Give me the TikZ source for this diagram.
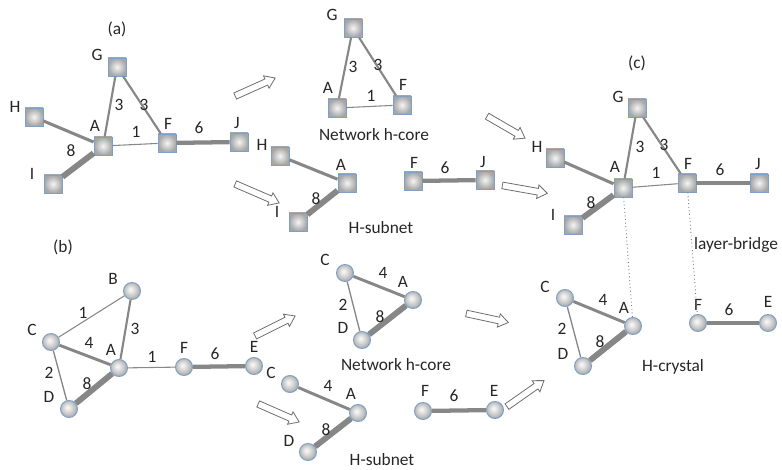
\documentclass[tikz,border=0pt]{standalone}
\usepackage{fontspec}
\setmainfont{Carlito}
\usetikzlibrary{shapes.arrows,calc}
\definecolor{edgegray}{RGB}{135,135,135}
\definecolor{rimblue}{RGB}{125,160,200}
\definecolor{arrowline}{RGB}{110,110,110}

% soft off-centre shading for the round vertices
\pgfdeclareradialshading{softball}{\pgfpoint{-5bp}{5bp}}{%
  color(0bp)=(gray!4); color(7bp)=(gray!18); color(20bp)=(gray!50);
  color(26bp)=(gray!68); color(50bp)=(gray!68)}

% hollow block arrow between two named coordinates
\newcommand\blockarrow[3]{%
  \path let \p1=($(#3)-(#2)$), \n1={atan2(\y1,\x1)}, \n2={veclen(\x1,\y1)} in
    node[hollow, rotate=\n1, minimum height=\n2] (#1) at ($(#2)!0.5!(#3)$) {};}

\begin{document}
\begin{tikzpicture}[x=0.75pt,y=-0.75pt,
  sq/.style={draw=rimblue, line width=0.7pt, minimum size=13.5pt, inner sep=0pt,
             inner color=gray!8, outer color=gray!70},
  ball/.style={circle, draw=rimblue, line width=0.7pt, minimum size=12.75pt, inner sep=0pt,
               shading=softball},
  txt/.style={font=\fontsize{13}{15}\selectfont, inner sep=0pt, text=black!85},
  e1/.style={draw=edgegray, line width=0.8pt},
  e2/.style={draw=edgegray, line width=1.0pt},
  e3/.style={draw=edgegray, line width=1.6pt},
  e4/.style={draw=edgegray, line width=2.2pt},
  eh/.style={draw=edgegray, line width=2.3pt},
  e6/.style={draw=edgegray, line width=3.2pt},
  e8/.style={draw=edgegray, line width=4.4pt},
  bridge/.style={draw=gray, line width=0.7pt, dotted},
  hollow/.style={single arrow, draw=arrowline, line width=0.6pt, fill=white,
                 inner sep=2.2pt, minimum width=0pt, single arrow head extend=2.6pt,
                 single arrow tip angle=70}]
\useasboundingbox (0,0) rectangle (782,470);

% ---------- (a) original network ----------
\node[txt] (la) at (117,29) {(a)};
\node[sq] (aG) at (117,67) {};
\node[sq] (aH) at (34,117) {};
\node[sq] (aA) at (103,146) {};
\node[sq] (aI) at (53,184) {};
\node[sq] (aF) at (167,143) {};
\node[sq] (aJ) at (239,142) {};
\draw[e3] (aA) -- (aG);
\draw[e3] (aG) -- (aF);
\draw[eh] (aA) -- (aH);
\draw[e1] (aA) -- (aF);
\draw[e8] (aA) -- (aI);
\draw[e6] (aF) -- (aJ);
\node[txt] (taG) at (97,55) {G};
\node[txt] (taH) at (15,107) {H};
\node[txt] (taA) at (95,126) {A};
\node[txt] (taI) at (32,174) {I};
\node[txt] (taF) at (168,124) {F};
\node[txt] (taJ) at (237,123) {J};
\node[txt] (waAG) at (119,105) {3};
\node[txt] (waGF) at (144,105) {3};
\node[txt] (waAF) at (136,132) {1};
\node[txt] (waFJ) at (199,128) {6};
\node[txt] (waAI) at (71,151) {8};

% ---------- top network h-core ----------
\node[sq] (hG) at (353,28) {};
\node[sq] (hA) at (337,108) {};
\node[sq] (hF) at (402,105) {};
\draw[e3] (hA) -- (hG);
\draw[e3] (hG) -- (hF);
\draw[e1] (hA) -- (hF);
\node[txt] (thG) at (332,15) {G};
\node[txt] (thA) at (328,88) {A};
\node[txt] (thF) at (403,85) {F};
\node[txt] (whAG) at (353,67) {3};
\node[txt] (whGF) at (378,65) {3};
\node[txt] (whAF) at (371,96) {1};
\node[txt] (nhc1) at (374,135) {Network h-core};

% ---------- top H-subnet ----------
\node[sq] (sH) at (280,156) {};
\node[sq] (sA) at (347,183) {};
\node[sq] (sI) at (298,222) {};
\draw[eh] (sA) -- (sH);
\draw[e8] (sA) -- (sI);
\node[txt] (tsH) at (262,145) {H};
\node[txt] (tsA) at (341,165) {A};
\node[txt] (tsI) at (277,212) {I};
\node[txt] (wsAI) at (316,199) {8};
\node[txt] (hs1) at (381,228) {H-subnet};

% ---------- top F-J pair ----------
\node[sq] (tF) at (413,181) {};
\node[sq] (tJ) at (485,180) {};
\draw[e6] (tF) -- (tJ);
\node[txt] (ttF) at (414,163) {F};
\node[txt] (ttJ) at (483,162) {J};
\node[txt] (wtFJ) at (445,168) {6};

% ---------- (c) layered network ----------
\node[txt] (lc) at (637,63) {(c)};
\node[sq] (cG) at (637,108) {};
\node[sq] (cH) at (555,158) {};
\node[sq] (cA) at (623,188) {};
\node[sq] (cI) at (573,225) {};
\node[sq] (cF) at (687,183) {};
\node[sq] (cJ) at (759,183) {};
\draw[e3] (cA) -- (cG);
\draw[e3] (cG) -- (cF);
\draw[eh] (cA) -- (cH);
\draw[e1] (cA) -- (cF);
\draw[e8] (cA) -- (cI);
\draw[e6] (cF) -- (cJ);
\node[txt] (tcG) at (618,97) {G};
\node[txt] (tcH) at (537,147) {H};
\node[txt] (tcA) at (615,167) {A};
\node[txt] (tcI) at (553,215) {I};
\node[txt] (tcF) at (688,164) {F};
\node[txt] (tcJ) at (758,164) {J};
\node[txt] (wcAG) at (640,147) {3};
\node[txt] (wcGF) at (664,145) {3};
\node[txt] (wcAF) at (656,173) {1};
\node[txt] (wcFJ) at (720,170) {6};
\node[txt] (wcAI) at (591,203) {8};

% ---------- (b) original network ----------
\node[txt] (lb) at (63,247) {(b)};
\node[ball] (bB) at (132,291) {};
\node[ball] (bC) at (51,342) {};
\node[ball] (bA) at (119,368) {};
\node[ball] (bD) at (69,409) {};
\node[ball] (bF) at (184,367) {};
\node[ball] (bE) at (254,366) {};
\draw[e1] (bB) -- (bC);
\draw[e3] (bA) -- (bB);
\draw[e4] (bA) -- (bC);
\draw[e2] (bC) -- (bD);
\draw[e8] (bA) -- (bD);
\draw[e1] (bA) -- (bF);
\draw[e6] (bF) -- (bE);
\node[txt] (tbB) at (113,279) {B};
\node[txt] (tbC) at (32,330) {C};
\node[txt] (tbA) at (111,350) {A};
\node[txt] (tbD) at (49,397) {D};
\node[txt] (tbF) at (184,348) {F};
\node[txt] (tbE) at (254,347) {E};
\node[txt] (wbBC) at (83,313) {1};
\node[txt] (wbAB) at (135,329) {3};
\node[txt] (wbAC) at (89,343) {4};
\node[txt] (wbCD) at (49,373) {2};
\node[txt] (wbAD) at (87,384) {8};
\node[txt] (wbAF) at (152,357) {1};
\node[txt] (wbFE) at (215,354) {6};

% ---------- bottom network h-core ----------
\node[ball] (kC) at (345,273) {};
\node[ball] (kA) at (413,300) {};
\node[ball] (kD) at (362,340) {};
\draw[e4] (kC) -- (kA);
\draw[e2] (kC) -- (kD);
\draw[e8] (kA) -- (kD);
\node[txt] (tkC) at (325,260) {C};
\node[txt] (tkA) at (403,282) {A};
\node[txt] (tkD) at (343,328) {D};
\node[txt] (wkCA) at (383,273) {4};
\node[txt] (wkCD) at (343,305) {2};
\node[txt] (wkAD) at (380,317) {8};
\node[txt] (nhc2) at (396,365) {Network h-core};

% ---------- bottom H-subnet ----------
\node[ball] (uC) at (290,384) {};
\node[ball] (uA) at (358,413) {};
\node[ball] (uD) at (308,452) {};
\draw[e4] (uC) -- (uA);
\draw[e8] (uA) -- (uD);
\node[txt] (tuC) at (271,373) {C};
\node[txt] (tuA) at (351,394) {A};
\node[txt] (tuD) at (289,441) {D};
\node[txt] (wuCA) at (328,386) {4};
\node[txt] (wuAD) at (326,430) {8};
\node[txt] (hs2) at (382,460) {H-subnet};

% ---------- bottom F-E pair ----------
\node[ball] (vF) at (423,411) {};
\node[ball] (vE) at (495,410) {};
\draw[e6] (vF) -- (vE);
\node[txt] (tvF) at (425,391) {F};
\node[txt] (tvE) at (494,391) {E};
\node[txt] (wvFE) at (454,396) {6};

% ---------- H-crystal ----------
\node[ball] (xC) at (565,298) {};
\node[ball] (xA) at (633,326) {};
\node[ball] (xD) at (583,366) {};
\node[ball] (xF) at (698,323) {};
\node[ball] (xE) at (768,323) {};
\draw[e4] (xC) -- (xA);
\draw[e2] (xC) -- (xD);
\draw[e8] (xA) -- (xD);
\draw[e6] (xF) -- (xE);
\node[txt] (txC) at (545,287) {C};
\node[txt] (txA) at (624,308) {A};
\node[txt] (txD) at (563,354) {D};
\node[txt] (wxCA) at (603,300) {4};
\node[txt] (wxCD) at (562,329) {2};
\node[txt] (wxAD) at (600,342) {8};
\node[txt] (txF) at (698,305) {F};
\node[txt] (txE) at (768,302) {E};
\node[txt] (wxFE) at (729,310) {6};
\node[txt] (hcr) at (673,367) {H-crystal};
\node[txt] (lbr) at (736,245) {layer-bridge};

% layer bridges
\draw[bridge] (cA) -- (xA);
\draw[bridge] (cF) -- (xF);

% ---------- decomposition arrows ----------
\coordinate (p1s) at (233,97);  \coordinate (p1e) at (273,79);
\coordinate (p2s) at (233,183); \coordinate (p2e) at (277,202);
\coordinate (p3s) at (485,115); \coordinate (p3e) at (523,137);
\coordinate (p4s) at (500,185); \coordinate (p4e) at (545,193);
\coordinate (p5s) at (253,337); \coordinate (p5e) at (293,317);
\coordinate (p6s) at (256,403); \coordinate (p6e) at (297,421);
\coordinate (p7s) at (464,313); \coordinate (p7e) at (506,322);
\coordinate (p8s) at (505,408); \coordinate (p8e) at (542,382);
\blockarrow{ar1}{p1s}{p1e}
\blockarrow{ar2}{p2s}{p2e}
\blockarrow{ar3}{p3s}{p3e}
\blockarrow{ar4}{p4s}{p4e}
\blockarrow{ar5}{p5s}{p5e}
\blockarrow{ar6}{p6s}{p6e}
\blockarrow{ar7}{p7s}{p7e}
\blockarrow{ar8}{p8s}{p8e}
\end{tikzpicture}
\end{document}
